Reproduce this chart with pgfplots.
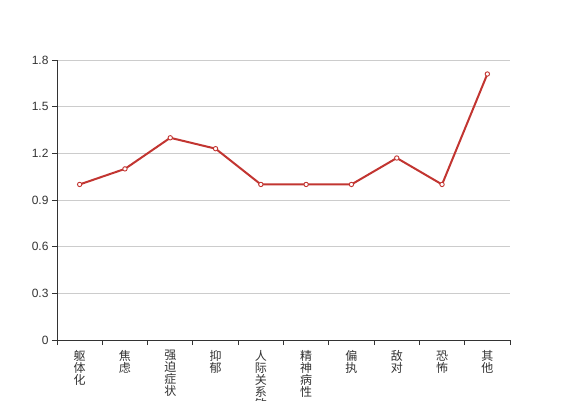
\documentclass[border=0pt]{standalone}
\usepackage{fontspec}
\setmainfont{Liberation Sans}
\newfontfamily\cjk{Noto Sans CJK SC}
\usepackage{pgfplots}
\pgfplotsset{compat=1.18}
\definecolor{lineRed}{HTML}{C23531}
\definecolor{gridGray}{HTML}{CCCCCC}
\definecolor{axisDark}{HTML}{333333}

\begin{document}
\begin{tikzpicture}[x=1pt,y=1pt]
\useasboundingbox (0,0) rectangle (567,400);
\clip (0,0) rectangle (567,400);
\begin{axis}[
  at={(57pt,60pt)}, anchor=south west,
  scale only axis, width=453pt, height=280pt,
  xmin=-0.5, xmax=9.5, ymin=0, ymax=1.8,
  axis x line*=bottom, axis y line*=left,
  axis line style={axisDark, line width=1pt},
  tick align=outside,
  major tick length=5pt, minor tick length=5pt,
  tick style={axisDark, line width=1pt},
  xtick={0,...,9},
  xticklabels={{躯\\体\\化},{焦\\虑},{强\\迫\\症\\状},{抑\\郁},{人\\际\\关\\系\\敏\\感},{精\\神\\病\\性},{偏\\执},{敌\\对},{恐\\怖},{其\\他}},
  x tick label style={font=\cjk\fontsize{12}{12}\selectfont, align=center, text=axisDark, anchor=north, yshift=-2pt},
  major x tick style={draw=none},
  minor xtick={-0.5,0.5,...,9.5},
  minor x tick style={axisDark, line width=1pt},
  ytick={0,0.3,0.6,0.9,1.2,1.5,1.8},
  yticklabels={0,0.3,0.6,0.9,1.2,1.5,1.8},
  y tick label style={font=\fontsize{12}{14}\selectfont, text=axisDark},
  ymajorgrids, grid style={gridGray, line width=0.8pt},
  clip=false,
]
\addplot[lineRed, line width=2pt, mark=*, mark size=2.2pt,
  mark options={fill=white, draw=lineRed, line width=0.9pt}]
  coordinates {
  (0,1.00) (1,1.10) (2,1.30) (3,1.23) (4,1.00)
  (5,1.00) (6,1.00) (7,1.17) (8,1.00) (9,1.71)
};
\end{axis}
\end{tikzpicture}
\end{document}
